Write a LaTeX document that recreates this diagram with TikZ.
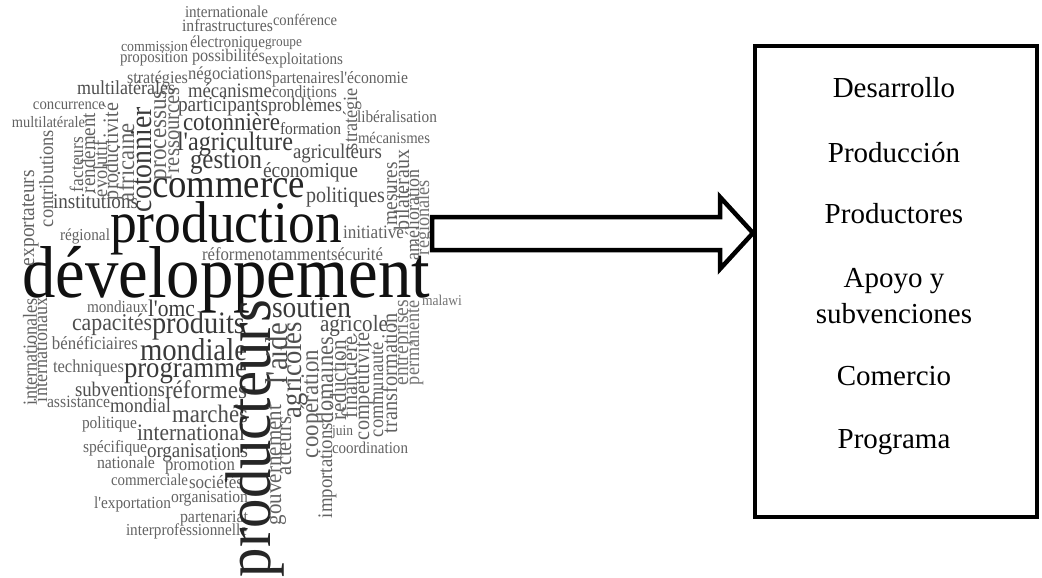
\documentclass[tikz,border=0pt]{standalone}
\usepackage{fontspec}
\setmainfont{Liberation Serif}
\usepackage{graphicx}
\usetikzlibrary{calc}
\definecolor{k0}{HTML}{111111}
\definecolor{k1}{HTML}{262626}
\definecolor{k2}{HTML}{3a3a3a}
\definecolor{k3}{HTML}{4d4d4d}
\definecolor{k4}{HTML}{626262}
\definecolor{k5}{HTML}{737373}
\newcommand{\ap}{\textquotesingle}
\tikzset{
  cw/.style={anchor=base west, inner sep=0pt, outer sep=0pt, font=\fontsize{20}{20}\selectfont},
  boxtext/.style={anchor=base, inner sep=0pt, font=\fontsize{29}{29}\selectfont, text=black},
  frame/.style={draw=black, line width=4pt, minimum width=282pt, minimum height=471pt, inner sep=0pt, anchor=north west},
  bigarrow/.style={draw=black, line width=4.5pt, line join=miter, fill=white}
}
\newcommand{\hw}[6]{\node[cw,text=#5] (#1) at (#2,#3) {\resizebox{#4pt}{!}{\scalebox{1}[1.1]{#6}}};}
\newcommand{\vw}[6]{\node[cw,rotate=90,text=#5] (#1) at (#2,#3) {\resizebox{#4pt}{!}{\scalebox{1}[1.1]{#6}}};}
\begin{document}
\begin{tikzpicture}[x=1pt,y=-1pt]
\useasboundingbox (0,0) rectangle (1042,578);
% horizontal words
\hw{h1}{185}{18}{83}{k4}{internationale}
\hw{h2}{182}{32}{91}{k4}{infrastructures}
\hw{h3}{273}{26}{64}{k4}{conférence}
\hw{h4}{121}{52}{67}{k4}{commission}
\hw{h5}{190}{48}{75}{k4}{électronique}
\hw{h6}{265}{47}{37}{k4}{groupe}
\hw{h7}{120}{63}{68}{k4}{proposition}
\hw{h8}{192}{62}{73}{k4}{possibilités}
\hw{h9}{265}{65}{78}{k4}{exploitations}
\hw{h10}{127}{83}{61}{k4}{stratégies}
\hw{h11}{188}{79}{84}{k4}{négociations}
\hw{h12}{272}{84}{68}{k4}{partenaires}
\hw{h13}{340}{84}{68}{k4}{l\ap économie}
\hw{h14}{77}{95}{98}{k3}{multilatérales}
\hw{h15}{188}{97}{84}{k3}{mécanisme}
\hw{h16}{272}{98}{65}{k4}{conditions}
\hw{h17}{33}{110}{72}{k4}{concurrence}
\hw{h18}{178}{111}{90}{k3}{participants}
\hw{h19}{268}{111}{74}{k3}{problèmes}
\hw{h20}{12}{127}{73}{k4}{multilatérale}
\hw{h21}{183}{130}{97}{k2}{cotonnière}
\hw{h22}{280}{134}{61}{k3}{formation}
\hw{h23}{357}{123}{80}{k4}{libéralisation}
\hw{h24}{177}{150}{116}{k2}{l\ap agriculture}
\hw{h25}{358}{143}{72}{k4}{mécanismes}
\hw{h26}{293}{158}{89}{k3}{agriculteurs}
\hw{h27}{190}{168}{72}{k2}{gestion}
\hw{h28}{263}{177}{95}{k3}{économique}
\hw{h29}{152}{197}{153}{k1}{commerce}
\hw{h30}{306}{202}{79}{k3}{politiques}
\hw{h31}{53}{208}{85}{k3}{institutions}
\hw{h32}{110}{242}{232}{k0}{production}
\hw{h33}{60}{240}{50}{k4}{régional}
\hw{h34}{343}{238}{61}{k4}{initiative}
\hw{h35}{202}{260}{53}{k4}{réforme}
\hw{h36}{255}{260}{76}{k4}{notamment}
\hw{h37}{331}{260}{52}{k4}{sécurité}
\hw{h38}{22}{297}{408}{k0}{développement}
\hw{h39}{87}{312}{61}{k4}{mondiaux}
\hw{h40}{148}{316}{47}{k2}{l\ap omc}
\hw{h41}{72}{330}{80}{k3}{capacités}
\hw{h42}{152}{333}{93}{k2}{produits}
\hw{h43}{52}{349}{86}{k4}{bénéficiaires}
\hw{h44}{140}{360}{107}{k2}{mondiale}
\hw{h45}{53}{372}{71}{k4}{techniques}
\hw{h46}{124}{377}{123}{k2}{programme}
\hw{h47}{75}{396}{90}{k3}{subventions}
\hw{h48}{165}{398}{82}{k3}{réformes}
\hw{h49}{47}{407}{63}{k4}{assistance}
\hw{h50}{110}{412}{61}{k3}{mondial}
\hw{h51}{172}{422}{76}{k3}{marchés}
\hw{h52}{82}{428}{55}{k4}{politique}
\hw{h53}{137}{440}{108}{k3}{international}
\hw{h54}{83}{452}{64}{k4}{spécifique}
\hw{h55}{147}{457}{101}{k3}{organisations}
\hw{h56}{97}{468}{58}{k4}{nationale}
\hw{h57}{165}{470}{70}{k4}{promotion}
\hw{h58}{111}{485}{77}{k4}{commerciale}
\hw{h59}{189}{488}{54}{k4}{sociétés}
\hw{h60}{94}{508}{77}{k4}{l\ap exportation}
\hw{h61}{171}{502}{77}{k4}{organisation}
\hw{h62}{180}{522}{68}{k4}{partenariat}
\hw{h63}{126}{535}{121}{k4}{interprofessionnelle}
\hw{h64}{272}{317}{79}{k2}{soutien}
\hw{h65}{320}{331}{68}{k3}{agricole}
\hw{h66}{332}{435}{21}{k4}{juin}
\hw{h67}{332}{453}{76}{k4}{coordination}
\hw{h68}{422}{305}{40}{k5}{malawi}
% vertical words
\vw{v1}{357}{150}{62}{k4}{stratégie}
\vw{v2}{397}{225}{63}{k4}{mesures}
\vw{v3}{409}{230}{80}{k4}{bilatéraux}
\vw{v4}{419}{260}{90}{k4}{amélioration}
\vw{v5}{429}{255}{75}{k5}{régionales}
\vw{v6}{34}{266}{96}{k4}{exportateurs}
\vw{v7}{53}{227}{97}{k4}{contributions}
\vw{v8}{83}{192}{55}{k4}{facteurs}
\vw{v9}{95}{193}{80}{k4}{rendement}
\vw{v10}{107}{197}{57}{k4}{évolutif}
\vw{v11}{118}{200}{97}{k4}{productivité}
\vw{v12}{134}{202}{79}{k4}{africaine}
\vw{v13}{151}{212}{105}{k2}{cotonnier}
\vw{v14}{166}{180}{90}{k4}{processus}
\vw{v15}{179}{173}{86}{k4}{ressources}
\vw{v16}{37}{405}{107}{k4}{internationales}
\vw{v17}{47}{402}{104}{k4}{internationaux}
\vw{v18}{270}{577}{277}{k1}{producteurs}
\vw{v19}{281}{525}{120}{k4}{gouvernement}
\vw{v20}{291}{475}{58}{k4}{acteurs}
\vw{v21}{287}{384}{61}{k3}{l\ap aide}
\vw{v22}{301}{418}{96}{k3}{agricoles}
\vw{v23}{318}{458}{108}{k4}{coopération}
\vw{v24}{332}{518}{95}{k4}{importations}
\vw{v25}{333}{423}{86}{k4}{domaines}
\vw{v26}{346}{420}{80}{k4}{réduction}
\vw{v27}{357}{418}{81}{k4}{financière}
\vw{v28}{369}{440}{107}{k4}{compétitivité}
\vw{v29}{383}{437}{95}{k4}{communauté}
\vw{v30}{397}{433}{120}{k4}{transformation}
\vw{v31}{408}{385}{85}{k5}{entreprises}
\vw{v32}{419}{385}{85}{k5}{permanente}
% box
\node[frame] (box) at (753,44) {};
\node[boxtext] (t1) at (894,98) {Desarrollo};
\node[boxtext] (t2) at (894,162) {Producción};
\node[boxtext] (t3) at (894,223) {Productores};
\node[boxtext] (t4) at (894,287) {Apoyo y};
\node[boxtext] (t5) at (894,323) {subvenciones};
\node[boxtext] (t6) at (894,385) {Comercio};
\node[boxtext] (t7) at (894,448) {Programa};
% arrow
\coordinate (tail) at (432,233);
\coordinate (tip) at (753,233);
\draw[bigarrow] ($(tail)+(0,-16)$) -- (720,217) -- (720,197) -- (tip) -- (720,269) -- (720,250) -- ($(tail)+(0,17)$) -- cycle;
\end{tikzpicture}
\end{document}
